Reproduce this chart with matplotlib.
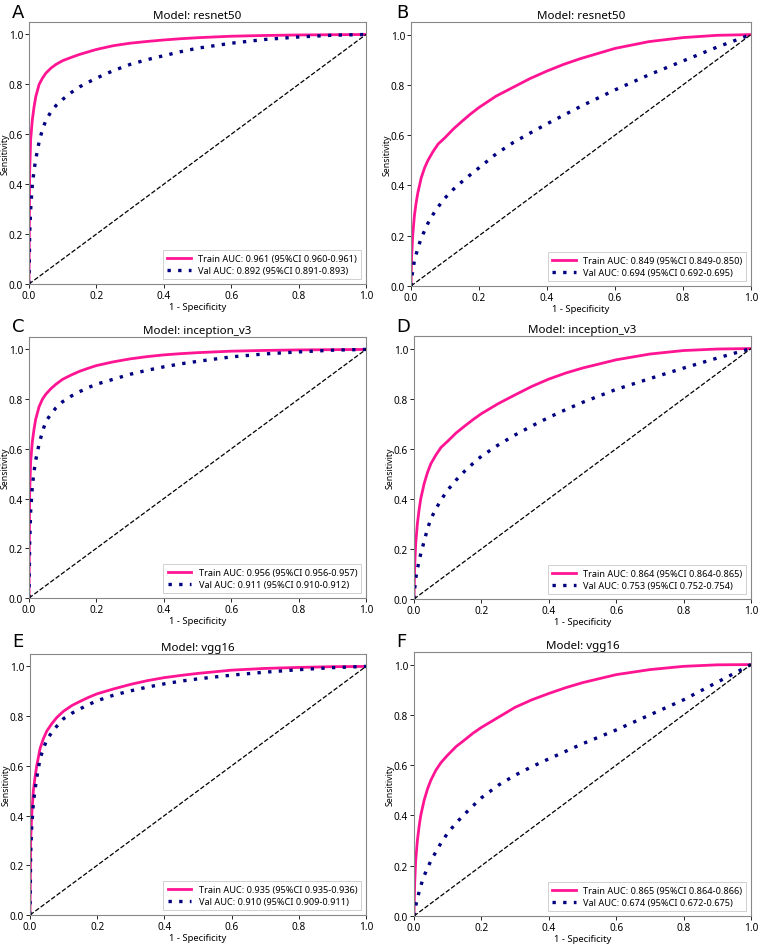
import matplotlib
matplotlib.use('Agg')
import matplotlib.pyplot as plt

plt.rcParams['font.family'] = ['Noto Sans', 'DejaVu Sans']

# shared false positive rate grid (1 - specificity)
fpr = [0, 0.002, 0.005, 0.01, 0.015, 0.02, 0.03, 0.04, 0.05, 0.065, 0.08,
       0.1, 0.125, 0.15, 0.175, 0.2, 0.25, 0.3, 0.35, 0.4, 0.45, 0.5,
       0.6, 0.7, 0.8, 0.9, 1.0]

# sensitivity values per panel
tpr_train_a = [0, .45, .58, .66, .71, .75, .80, .825, .845, .865, .88, .895, .908, .92, .93, .94, .955, .965, .972, .978, .983, .987, .993, .996, .998, .999, 1.0]
tpr_val_a = [0, .2, .3, .4, .455, .5, .57, .62, .655, .69, .715, .74, .767, .79, .808, .825, .855, .88, .899, .915, .931, .945, .965, .98, .99, .997, 1.0]
tpr_train_b = [0, .12, .2, .28, .33, .37, .43, .47, .5, .535, .565, .59, .625, .655, .684, .71, .755, .79, .825, .855, .882, .905, .945, .972, .988, .997, 1.0]
tpr_val_b = [0, .03, .06, .1, .125, .15, .19, .22, .25, .285, .315, .35, .385, .415, .443, .47, .525, .57, .608, .645, .68, .715, .78, .84, .895, .95, 1.0]
tpr_train_c = [0, .42, .55, .63, .68, .72, .77, .80, .82, .842, .86, .88, .897, .912, .924, .935, .95, .962, .971, .978, .983, .987, .993, .996, .998, .999, 1.0]
tpr_val_c = [0, .22, .35, .45, .51, .555, .62, .67, .71, .74, .765, .79, .812, .83, .846, .86, .88, .90, .916, .93, .942, .952, .97, .982, .99, .997, 1.0]
tpr_train_d = [0, .13, .22, .3, .355, .4, .46, .505, .54, .575, .605, .63, .663, .69, .716, .74, .78, .815, .849, .878, .902, .922, .955, .978, .992, .998, 1.0]
tpr_val_d = [0, .04, .08, .12, .15, .18, .23, .28, .32, .36, .395, .435, .475, .51, .541, .57, .615, .655, .691, .725, .756, .785, .837, .88, .922, .962, 1.0]
tpr_train_e = [0, .3, .4, .5, .555, .6, .67, .71, .74, .77, .795, .82, .843, .86, .876, .89, .91, .928, .943, .955, .964, .972, .985, .992, .996, .999, 1.0]
tpr_val_e = [0, .25, .35, .45, .505, .55, .63, .67, .705, .735, .76, .79, .812, .83, .847, .862, .885, .902, .917, .93, .941, .95, .965, .977, .987, .995, 1.0]
tpr_train_f = [0, .13, .22, .3, .355, .4, .46, .505, .54, .58, .61, .64, .674, .70, .727, .75, .79, .83, .86, .885, .908, .928, .96, .98, .993, .999, 1.0]
tpr_val_f = [0, .02, .04, .07, .095, .12, .16, .19, .22, .255, .29, .33, .37, .405, .438, .47, .52, .56, .594, .625, .655, .685, .74, .80, .86, .93, 1.0]

panel_letters = ['A', 'B', 'C', 'D', 'E', 'F']
models = ['resnet50', 'resnet50', 'inception_v3', 'inception_v3', 'vgg16', 'vgg16']
train_auc = ['0.961 (95%CI 0.960-0.961)', '0.849 (95%CI 0.849-0.850)',
             '0.956 (95%CI 0.956-0.957)', '0.864 (95%CI 0.864-0.865)',
             '0.935 (95%CI 0.935-0.936)', '0.865 (95%CI 0.864-0.866)']
val_auc = ['0.892 (95%CI 0.891-0.893)', '0.694 (95%CI 0.692-0.695)',
           '0.911 (95%CI 0.910-0.912)', '0.753 (95%CI 0.752-0.754)',
           '0.910 (95%CI 0.909-0.911)', '0.674 (95%CI 0.672-0.675)']
train_curves = [tpr_train_a, tpr_train_b, tpr_train_c, tpr_train_d, tpr_train_e, tpr_train_f]
val_curves = [tpr_val_a, tpr_val_b, tpr_val_c, tpr_val_d, tpr_val_e, tpr_val_f]

W, H = 767, 945
fig = plt.figure(figsize=(W / 100, H / 100), dpi=100)

# axes boxes in pixels: left, top, right, bottom
boxes = [(29, 23, 366, 285), (411, 23, 751, 287),
         (29, 338, 366, 599), (414, 337, 751, 600),
         (30, 655, 366, 916), (414, 653, 751, 917)]
letter_pos = [(12, 4), (396, 4), (12, 318), (396, 318), (12, 633), (396, 633)]

for i in range(6):
    l, t, r, b = boxes[i]
    ax = fig.add_axes([l / W, 1 - b / H, (r - l) / W, (b - t) / H])
    ax.plot(fpr, train_curves[i], color='#ff1493', lw=2.0,
            label='Train AUC: ' + train_auc[i])
    ax.plot(fpr, val_curves[i], color='#000080', lw=2.4, ls=(0, (1, 2.2)),
            label='Val AUC: ' + val_auc[i])
    ax.plot([0, 1], [0, 1], color='black', lw=0.9, ls='--')
    ax.set_xlim(0, 1)
    ax.set_ylim(0, 1.05)
    ax.set_xticks([0, 0.2, 0.4, 0.6, 0.8, 1.0])
    ax.set_yticks([0, 0.2, 0.4, 0.6, 0.8, 1.0])
    ax.tick_params(labelsize=7.2, length=3, width=0.6, pad=1.2)
    for s in ax.spines.values():
        s.set_color('#888888')
        s.set_linewidth(0.8)
    ax.set_title('Model: ' + models[i], fontsize=8.3, pad=3)
    ax.set_xlabel('1 - Specificity', fontsize=6.8, labelpad=1)
    ax.set_ylabel('Sensitivity', fontsize=6.3, va='center')
    # keep the y label inside the figure for the left column
    label_x = max(l - 24, 5)
    ax.yaxis.set_label_coords((label_x - l) / (r - l), 0.5)
    leg = ax.legend(loc='lower right', fontsize=6.6, handlelength=2.6,
                    borderpad=0.45, labelspacing=0.35, fancybox=False)
    leg.get_frame().set_edgecolor('#bbbbbb')
    leg.get_frame().set_linewidth(0.6)
    lx, ly = letter_pos[i]
    fig.text(lx / W, 1 - ly / H, panel_letters[i], fontsize=13,
             family='DejaVu Sans', va='top', ha='left')

fig.savefig('out.png', dpi=100)
